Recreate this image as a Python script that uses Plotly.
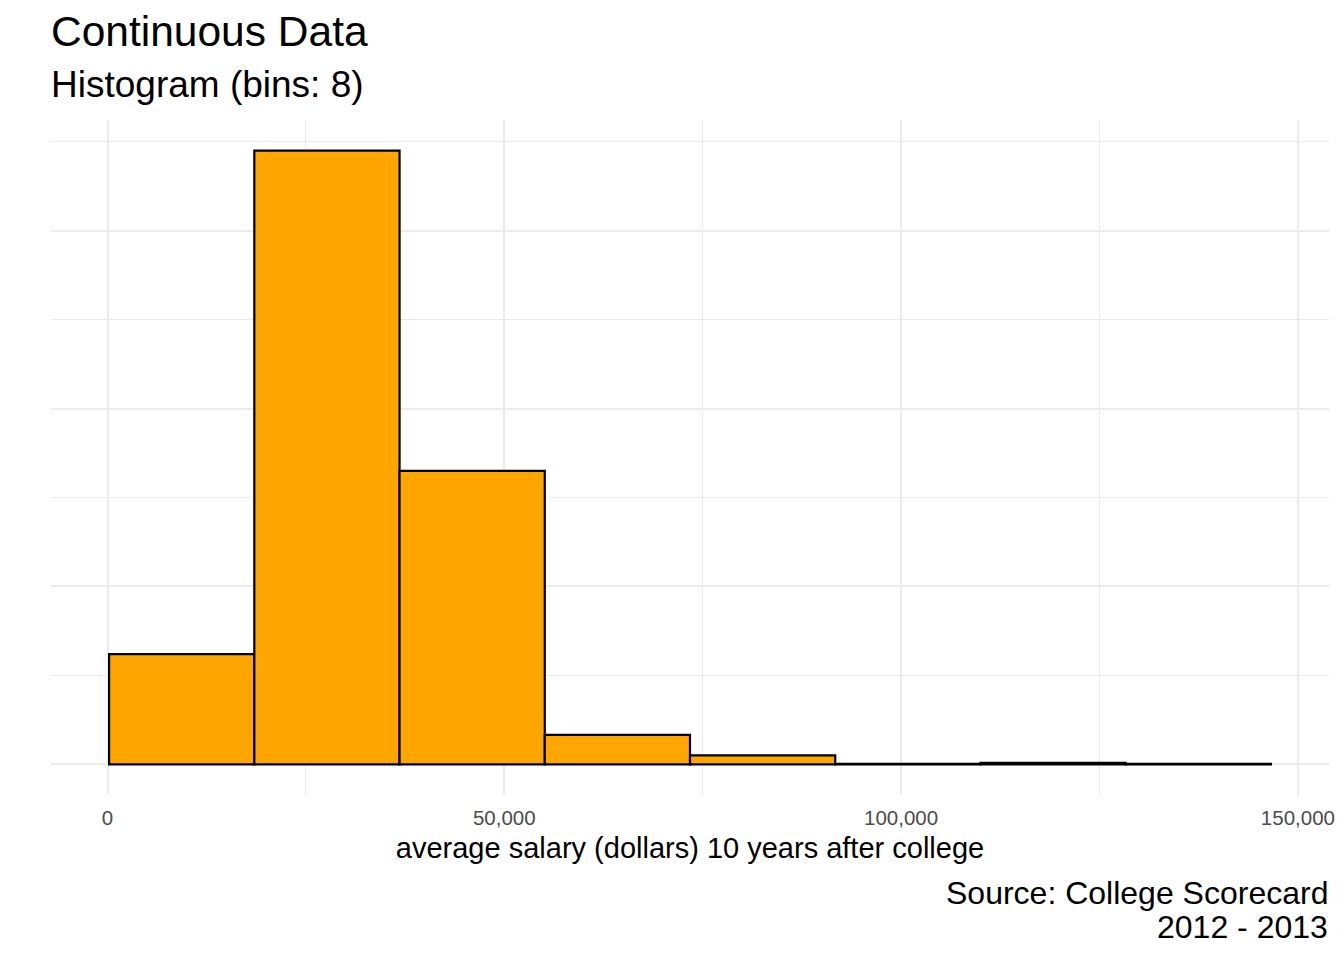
import plotly.graph_objects as go

# histogram of average salary, 8 bins (edges and counts)
bin_edges = [200, 18500, 36800, 55100, 73400, 91700, 110000, 128300, 146600]
counts = [620, 3450, 1650, 166, 50, 3, 8, 2]

x_ticks = [0, 50000, 100000, 150000]
x_tick_labels = ["0", "50,000", "100,000", "150,000"]
x_minor = [25000, 75000, 125000]
y_major = [0, 1000, 2000, 3000]
y_minor = [500, 1500, 2500, 3500]

centers = [(a + b) / 2 for a, b in zip(bin_edges[:-1], bin_edges[1:])]
widths = [b - a for a, b in zip(bin_edges[:-1], bin_edges[1:])]

FONT = "Liberation Sans, Arial, sans-serif"
GRID = "#EBEBEB"

# page body has an 8px margin all round, keep the figure inside the window
W, H = 1328, 944
PANEL_BOTTOM, PANEL_H = 787, 675

fig = go.Figure(
    go.Bar(
        x=centers,
        y=counts,
        width=widths,
        marker=dict(color="#FFA500", line=dict(color="black", width=2.2)),
        hoverinfo="x+y",
    )
)

# ggplot-style 5% expansion on both axes
span = bin_edges[-1] - bin_edges[0]
x_range = [bin_edges[0] - 0.05 * span, bin_edges[-1] + 0.05 * span]
y_range = [-0.05 * max(counts), 1.05 * max(counts)]

fig.update_xaxes(
    range=x_range,
    tickvals=x_ticks,
    ticktext=x_tick_labels,
    tickfont=dict(size=20.5, color="#4D4D4D", family=FONT),
    ticklabeloverflow="allow",
    automargin=False,
    showgrid=True,
    gridcolor=GRID,
    gridwidth=2,
    zeroline=False,
    showline=False,
    ticks="",
    ticklabelstandoff=8,
    minor=dict(tickvals=x_minor, showgrid=True, gridcolor=GRID, gridwidth=1.2),
    title=dict(
        text="average salary (dollars) 10 years after college",
        font=dict(size=29, color="black", family=FONT),
        standoff=10,
    ),
)
fig.update_yaxes(
    range=y_range,
    tickvals=y_major,
    showticklabels=False,
    automargin=False,
    showgrid=True,
    gridcolor=GRID,
    gridwidth=2,
    zeroline=False,
    showline=False,
    ticks="",
    minor=dict(tickvals=y_minor, showgrid=True, gridcolor=GRID, gridwidth=1.2),
)


def py(pixel):
    # page pixel row -> paper coordinate
    return (PANEL_BOTTOM - (pixel - 8)) / PANEL_H


fig.update_layout(
    width=W,
    height=H,
    margin=dict(l=43, r=7, t=112, b=H - PANEL_BOTTOM),
    plot_bgcolor="white",
    paper_bgcolor="white",
    showlegend=False,
    font=dict(family=FONT, color="black"),
    title=dict(
        text="Continuous Data",
        font=dict(size=42.5, color="black", family=FONT),
        xref="container",
        x=43 / W,
        xanchor="left",
        yref="container",
        y=1 - 23 / H,
        yanchor="middle",
    ),
    annotations=[
        dict(
            text="Histogram (bins: 8)",
            xref="paper",
            yref="paper",
            x=0,
            xshift=-2,
            y=py(84),
            xanchor="left",
            yanchor="middle",
            showarrow=False,
            font=dict(size=37, color="black", family=FONT),
        ),
        dict(
            text="Source: College Scorecard",
            xref="paper",
            yref="paper",
            x=1,
            xshift=1,
            y=py(893),
            xanchor="right",
            yanchor="middle",
            showarrow=False,
            font=dict(size=32, color="black", family=FONT),
        ),
        dict(
            text="2012 - 2013",
            xref="paper",
            yref="paper",
            x=1,
            xshift=1,
            y=py(927),
            xanchor="right",
            yanchor="middle",
            showarrow=False,
            font=dict(size=32, color="black", family=FONT),
        ),
    ],
)

fig.write_html("out.html")
